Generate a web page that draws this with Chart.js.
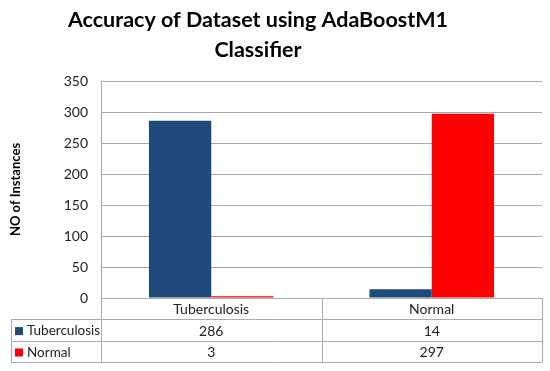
<!DOCTYPE html>
<html>
<head>
<meta charset="utf-8">
<script src="https://cdn.jsdelivr.net/npm/chart.js@4/dist/chart.umd.min.js"></script>
<style>
  html, body { margin: 0; padding: 0; background: #fff; }
  canvas { display: block; }
</style>
</head>
<body>
<canvas id="chart" width="550" height="371"></canvas>
<script>
const chartTitle = ["Accuracy of Dataset using AdaBoostM1", "Classifier"];
const categories = ["Tuberculosis", "Normal"];
const seriesNames = ["Tuberculosis", "Normal"];
const tuberculosisValues = [286, 14];
const normalValues = [3, 297];
const seriesColors = ["#1F497D", "#FF0000"];
const yMin = 0, yMax = 350, yStep = 50;

const FONT = "Lato, 'Open Sans', sans-serif";
const lineColor = "#ABABAB";

// draws the title and the data table under the plot
const tablePlugin = {
    id: "dataTable",
    afterDraw: (chart) => {
        const ctx = chart.ctx;
        const area = chart.chartArea;
        const x = chart.scales.x;
        const rowH = 21.4;
        const tableLeft = 11;
        const top = area.bottom;

        ctx.save();

        // title
        ctx.fillStyle = "#000";
        ctx.font = "bold 21.5px " + FONT;
        ctx.textAlign = "center";
        ctx.textBaseline = "alphabetic";
        chartTitle.forEach((line, i) => ctx.fillText(line, 258, 26.5 + i * 30.5));

        // grid lines of the table
        ctx.strokeStyle = lineColor;
        ctx.lineWidth = 1;
        ctx.beginPath();
        for (let r = 1; r <= 3; r++) {
            const y = Math.round(top + r * rowH) + 0.5;
            ctx.moveTo(tableLeft, y);
            ctx.lineTo(area.right, y);
        }
        ctx.moveTo(tableLeft + 0.5, top + rowH);
        ctx.lineTo(tableLeft + 0.5, top + 3 * rowH);
        const bounds = [area.left];
        for (let i = 0; i < categories.length - 1; i++) {
            bounds.push((x.getPixelForValue(i) + x.getPixelForValue(i + 1)) / 2);
        }
        bounds.push(area.right);
        bounds.forEach((bx) => {
            ctx.moveTo(Math.round(bx) + 0.5, top);
            ctx.lineTo(Math.round(bx) + 0.5, top + 3 * rowH);
        });
        ctx.stroke();

        // header row with the categories
        ctx.fillStyle = "#222";
        ctx.font = "14px " + FONT;
        ctx.textBaseline = "middle";
        ctx.textAlign = "center";
        categories.forEach((c, i) => ctx.fillText(c, x.getPixelForValue(i), top + rowH / 2 + 1));

        // one row per series
        chart.data.datasets.forEach((ds, r) => {
            const cy = top + rowH * (r + 1.5) + 1;
            ctx.fillStyle = ds.backgroundColor;
            ctx.fillRect(15, cy - 4, 8, 8);
            ctx.fillStyle = "#222";
            ctx.textAlign = "left";
            ctx.font = "13.5px " + FONT;
            ctx.fillText(ds.label, 27, cy);
            ctx.font = "14px " + FONT;
            ctx.textAlign = "center";
            ds.data.forEach((v, i) => ctx.fillText(String(v), x.getPixelForValue(i), cy));
        });

        ctx.restore();
    },
};

new Chart(document.getElementById("chart"), {
    type: "bar",
    data: {
        labels: categories,
        datasets: [
            { label: seriesNames[0], data: tuberculosisValues, backgroundColor: seriesColors[0] },
            { label: seriesNames[1], data: normalValues, backgroundColor: seriesColors[1] },
        ],
    },
    options: {
        responsive: false,
        animation: false,
        devicePixelRatio: 1,
        layout: { padding: { top: 81, left: 0, right: 8, bottom: 9 } },
        datasets: { bar: { categoryPercentage: 0.565, barPercentage: 1 } },
        plugins: {
            legend: { display: false },
            title: { display: false },
            tooltip: { enabled: false },
        },
        scales: {
            x: {
                ticks: { display: false },
                grid: { display: false },
                border: { display: true, color: lineColor },
                afterFit: (axis) => { axis.height = 64; },
            },
            y: {
                min: yMin,
                max: yMax,
                ticks: { stepSize: yStep, padding: 13, color: "#222", font: { family: FONT, size: 14 } },
                grid: { color: lineColor, drawTicks: false },
                border: { display: true, color: lineColor },
                title: {
                    display: true,
                    text: "NO of Instances",
                    color: "#000",
                    font: { family: FONT, size: 13, weight: "bold" },
                    padding: { top: 8, bottom: 0 },
                },
                afterFit: (axis) => { axis.width = 101; },
            },
        },
    },
    plugins: [tablePlugin],
});
</script>
</body>
</html>
